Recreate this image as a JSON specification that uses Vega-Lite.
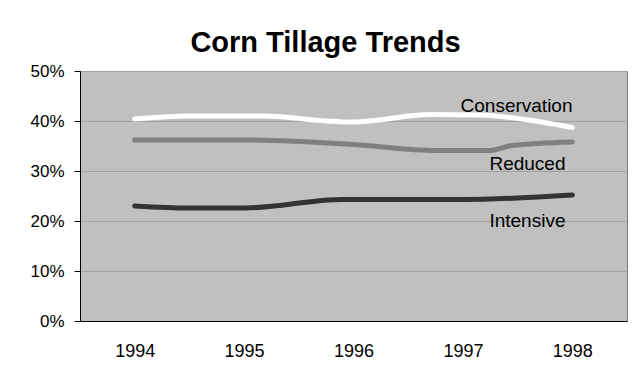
{
  "$schema": "https://vega.github.io/schema/vega-lite/v6.json",
  "width": 547,
  "height": 250,
  "autosize": {"type": "none"},
  "padding": {"left": 80, "top": 71, "right": 11, "bottom": 47},
  "background": "white",
  "title": {
    "text": "Corn Tillage Trends",
    "font": "Liberation Sans",
    "fontSize": 29,
    "fontWeight": "bold",
    "color": "black",
    "anchor": "middle",
    "frame": "group",
    "dx": -28,
    "offset": 4
  },
  "config": {
    "view": {"fill": "#c0c0c0", "stroke": "#808080", "strokeWidth": 1},
    "axis": {"labelFont": "Liberation Sans", "labelColor": "black"}
  },
  "datasets": {
    "lines": [
      {"series": "Conservation", "year": 1994, "share": 40.4},
      {"series": "Conservation", "year": 1994.5, "share": 41.0},
      {"series": "Conservation", "year": 1995.2, "share": 41.0},
      {"series": "Conservation", "year": 1995.75, "share": 40.0},
      {"series": "Conservation", "year": 1996, "share": 39.8},
      {"series": "Conservation", "year": 1996.7, "share": 41.3},
      {"series": "Conservation", "year": 1997.15, "share": 41.2},
      {"series": "Conservation", "year": 1997.6, "share": 40.2},
      {"series": "Conservation", "year": 1998, "share": 38.7},
      {"series": "Reduced", "year": 1994, "share": 36.2},
      {"series": "Reduced", "year": 1995, "share": 36.2},
      {"series": "Reduced", "year": 1996, "share": 35.3},
      {"series": "Reduced", "year": 1996.75, "share": 34.1},
      {"series": "Reduced", "year": 1997.25, "share": 34.1},
      {"series": "Reduced", "year": 1997.45, "share": 35.1},
      {"series": "Reduced", "year": 1998, "share": 35.8},
      {"series": "Intensive", "year": 1994, "share": 23.0},
      {"series": "Intensive", "year": 1994.5, "share": 22.6},
      {"series": "Intensive", "year": 1995, "share": 22.6},
      {"series": "Intensive", "year": 1995.9, "share": 24.3},
      {"series": "Intensive", "year": 1997, "share": 24.3},
      {"series": "Intensive", "year": 1998, "share": 25.2}
    ],
    "labels": [
      {"series": "Conservation", "year": 1997.49, "share": 41.8},
      {"series": "Reduced", "year": 1997.59, "share": 30.2},
      {"series": "Intensive", "year": 1997.59, "share": 18.8}
    ]
  },
  "encoding": {
    "x": {
      "field": "year",
      "type": "quantitative",
      "scale": {"domain": [1993.5, 1998.5], "nice": false, "zero": false},
      "axis": {
        "title": null,
        "values": [1994, 1995, 1996, 1997, 1998],
        "format": "d",
        "grid": false,
        "ticks": false,
        "domainColor": "black",
        "domainWidth": 1,
        "labelFontSize": 18,
        "labelPadding": 21
      }
    },
    "y": {
      "field": "share",
      "type": "quantitative",
      "scale": {"domain": [0, 50], "nice": false},
      "axis": {
        "title": null,
        "values": [0, 10, 20, 30, 40, 50],
        "labelExpr": "datum.value + '%'",
        "grid": true,
        "gridColor": "#a0a0a0",
        "gridWidth": 1,
        "domainColor": "black",
        "tickColor": "black",
        "tickSize": 6,
        "labelPadding": 10,
        "labelFontSize": 17
      }
    }
  },
  "layer": [
    {
      "data": {"name": "lines"},
      "mark": {"type": "line", "strokeWidth": 5, "strokeCap": "round", "strokeJoin": "round", "interpolate": "monotone"},
      "encoding": {
        "color": {
          "field": "series",
          "type": "nominal",
          "scale": {"domain": ["Conservation", "Reduced", "Intensive"], "range": ["#ffffff", "#808080", "#333333"]},
          "legend": null
        }
      }
    },
    {
      "data": {"name": "labels"},
      "mark": {"type": "text", "font": "Liberation Sans", "fontSize": 19, "color": "black", "align": "center", "baseline": "alphabetic"},
      "encoding": {"text": {"field": "series"}}
    }
  ]
}
